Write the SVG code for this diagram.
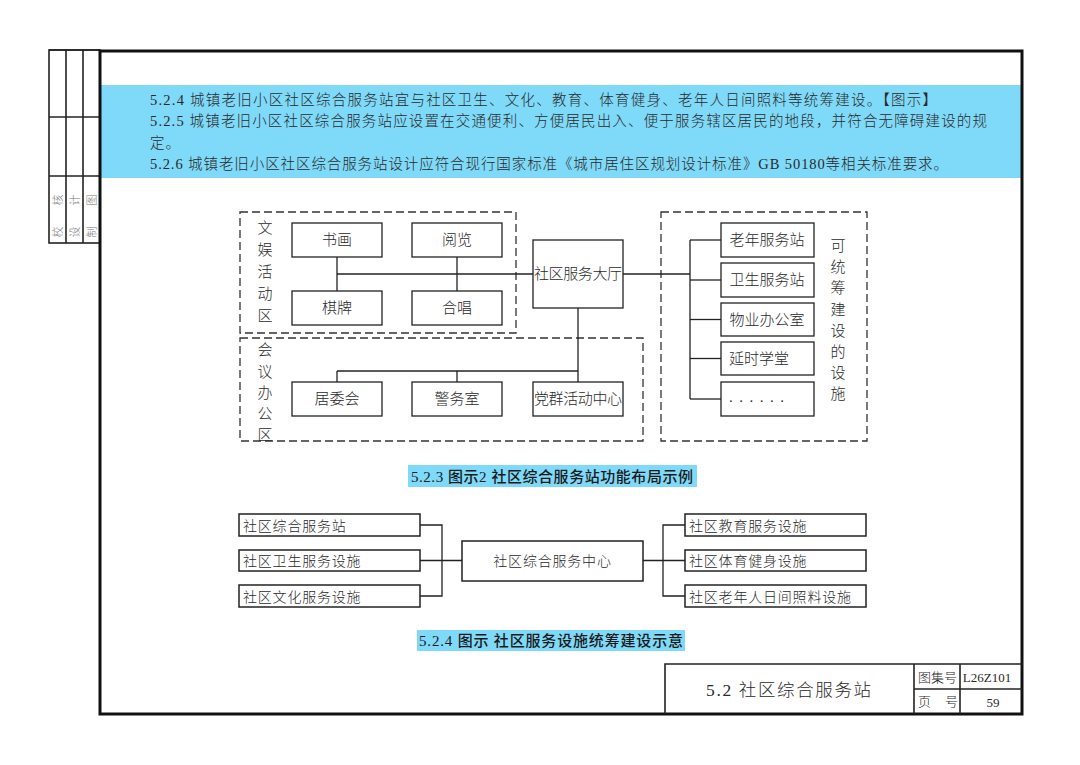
<svg xmlns="http://www.w3.org/2000/svg" width="1080" height="765" viewBox="0 0 1080 765">
<style>
text{font-family:"Liberation Serif","Noto Sans CJK SC",serif;fill:#2a2a2a;font-weight:300;}
.t{font-size:14.5px;}
.b{font-size:15px;}
.s{font-size:14px;letter-spacing:0.8px;}
.cp{font-size:15px;font-weight:500;fill:#1a1a1a;}
.box{fill:#fff;stroke:#222;stroke-width:1.3;}
.box2{fill:#fff;stroke:#222;stroke-width:1.5;}
.dash{fill:none;stroke:#333;stroke-width:1.3;stroke-dasharray:8 4;}
.ln{fill:none;stroke:#222;stroke-width:1.3;}
.frame{fill:none;stroke:#111;stroke-width:3;}
.tb{fill:none;stroke:#222;stroke-width:1.6;}
.g{font-size:11px;fill:#777;}
.cap{fill:#7fd9f8;}
</style>
<rect width="1080" height="765" fill="#fff"/>

<!-- left title block -->
<g id="sign-block">
<rect x="49" y="50" width="51" height="193" class="tb" stroke-width="1.2"/>
<line x1="66" y1="50" x2="66" y2="243" class="tb" stroke-width="1.2"/>
<line x1="83" y1="50" x2="83" y2="243" class="tb" stroke-width="1.2"/>
<line x1="49" y1="117" x2="100" y2="117" class="tb" stroke-width="1.2"/>
<line x1="49" y1="176" x2="100" y2="176" class="tb" stroke-width="1.2"/>
<text class="g" transform="translate(61.5,200) rotate(-90)" text-anchor="middle">核</text>
<text class="g" transform="translate(61.5,232) rotate(-90)" text-anchor="middle">校</text>
<text class="g" transform="translate(78.5,200) rotate(-90)" text-anchor="middle">计</text>
<text class="g" transform="translate(78.5,232) rotate(-90)" text-anchor="middle">设</text>
<text class="g" transform="translate(95.5,200) rotate(-90)" text-anchor="middle">图</text>
<text class="g" transform="translate(95.5,232) rotate(-90)" text-anchor="middle">制</text>
</g>

<!-- blue text band -->
<g id="clauses">
<rect x="100" y="85" width="923" height="93" fill="#7fd9f8"/>
<text class="t" x="150" y="104.5" textLength="787" lengthAdjust="spacing">5.2.4 城镇老旧小区社区综合服务站宜与社区卫生、文化、教育、体育健身、老年人日间照料等统筹建设。【图示】</text>
<text class="t" x="150" y="126" textLength="837" lengthAdjust="spacing">5.2.5 城镇老旧小区社区综合服务站应设置在交通便利、方便居民出入、便于服务辖区居民的地段，并符合无障碍建设的规</text>
<text class="t" x="150" y="147.5" textLength="30" lengthAdjust="spacing">定。</text>
<text class="t" x="150" y="169" textLength="798" lengthAdjust="spacing">5.2.6 城镇老旧小区社区综合服务站设计应符合现行国家标准《城市居住区规划设计标准》GB 50180等相关标准要求。</text>
</g>

<!-- main frame -->
<g id="frame">
<line x1="49" y1="50" x2="100" y2="50" stroke="#222" stroke-width="1.5"/>
<rect x="100" y="51" width="922" height="663" class="frame"/>
</g>

<!-- Diagram 1 zones -->
<g id="zone-wenyu">
<rect x="240" y="212" width="276" height="121" class="dash"/>
<text class="b" text-anchor="middle"><tspan x="265" y="233">文</tspan><tspan x="265" y="255">娱</tspan><tspan x="265" y="277">活</tspan><tspan x="265" y="299">动</tspan><tspan x="265" y="321">区</tspan></text>
</g>
<g id="zone-huiyi">
<rect x="240" y="338" width="403" height="103" class="dash"/>
<text class="b" text-anchor="middle"><tspan x="265" y="355">会</tspan><tspan x="265" y="377">议</tspan><tspan x="265" y="398">办</tspan><tspan x="265" y="419">公</tspan><tspan x="265" y="440">区</tspan></text>
</g>
<g id="zone-tongchou">
<rect x="661" y="212" width="206" height="229" class="dash"/>
<text class="b" text-anchor="middle"><tspan x="838" y="251">可</tspan><tspan x="838" y="272">统</tspan><tspan x="838" y="293">筹</tspan><tspan x="838" y="315">建</tspan><tspan x="838" y="336">设</tspan><tspan x="838" y="357">的</tspan><tspan x="838" y="378">设</tspan><tspan x="838" y="399">施</tspan></text>
</g>

<!-- connectors diagram 1 -->
<g id="connectors-1">
<line x1="337" y1="257" x2="337" y2="291" class="ln"/>
<line x1="457" y1="257" x2="457" y2="291" class="ln"/>
<line x1="337" y1="274" x2="533" y2="274" class="ln"/>
<line x1="623" y1="274" x2="690" y2="274" class="ln"/>
<line x1="578" y1="308" x2="578" y2="382" class="ln"/>
<line x1="337" y1="371" x2="578" y2="371" class="ln"/>
<line x1="337" y1="371" x2="337" y2="382" class="ln"/>
<line x1="457" y1="371" x2="457" y2="382" class="ln"/>
<line x1="690" y1="240" x2="690" y2="399" class="ln"/>
<line x1="690" y1="240" x2="721" y2="240" class="ln"/>
<line x1="690" y1="280" x2="721" y2="280" class="ln"/>
<line x1="690" y1="319.5" x2="721" y2="319.5" class="ln"/>
<line x1="690" y1="358.5" x2="721" y2="358.5" class="ln"/>
<line x1="690" y1="399" x2="721" y2="399" class="ln"/>
</g>

<!-- Diagram 1 nodes -->
<g id="n-shuhua"><rect x="292" y="223" width="90" height="34" class="box"/><text class="b" x="337" y="245" text-anchor="middle">书画</text></g>
<g id="n-yuelan"><rect x="412" y="223" width="90" height="34" class="box"/><text class="b" x="457" y="245" text-anchor="middle">阅览</text></g>
<g id="n-qipai"><rect x="292" y="291" width="90" height="34" class="box"/><text class="b" x="337" y="313" text-anchor="middle">棋牌</text></g>
<g id="n-hechang"><rect x="412" y="291" width="90" height="34" class="box"/><text class="b" x="457" y="313" text-anchor="middle">合唱</text></g>
<g id="n-dating"><rect x="533" y="240" width="90" height="68" class="box"/><text class="b" x="578" y="279" text-anchor="middle" textLength="88" lengthAdjust="spacing">社区服务大厅</text></g>
<g id="n-juweihui"><rect x="292" y="382" width="90" height="34" class="box"/><text class="b" x="337" y="404" text-anchor="middle">居委会</text></g>
<g id="n-jingwushi"><rect x="412" y="382" width="90" height="34" class="box"/><text class="b" x="457" y="404" text-anchor="middle">警务室</text></g>
<g id="n-dangqun"><rect x="533" y="382" width="90" height="34" class="box"/><text class="b" x="578" y="404" text-anchor="middle" textLength="88" lengthAdjust="spacing">党群活动中心</text></g>
<g id="n-laonian"><rect x="721" y="223" width="93" height="34" class="box"/><text class="b" x="767" y="245" text-anchor="middle">老年服务站</text></g>
<g id="n-weisheng"><rect x="721" y="263" width="93" height="34" class="box"/><text class="b" x="767" y="285" text-anchor="middle">卫生服务站</text></g>
<g id="n-wuye"><rect x="721" y="303" width="93" height="33" class="box"/><text class="b" x="767" y="325" text-anchor="middle">物业办公室</text></g>
<g id="n-yanshi"><rect x="721" y="342" width="93" height="33" class="box"/><text class="b" x="729" y="364">延时学堂</text></g>
<g id="n-more"><rect x="721" y="382" width="93" height="34" class="box"/><text class="b" x="729" y="402" letter-spacing="6.5">......</text></g>

<g id="caption-1">
<rect x="408" y="465" width="289" height="22" class="cap"/>
<text class="cp" x="411" y="481.5" textLength="282" lengthAdjust="spacing">5.2.3 图示2 社区综合服务站功能布局示例</text>
</g>

<!-- connectors diagram 2 -->
<g id="connectors-2">
<polyline points="420,525 442,525 442,596 420,596" class="ln" stroke-width="1.5"/>
<line x1="420" y1="560.5" x2="462" y2="560.5" class="ln" stroke-width="1.5"/>
<polyline points="685,525 663,525 663,596 685,596" class="ln" stroke-width="1.5"/>
<line x1="643" y1="560.5" x2="685" y2="560.5" class="ln" stroke-width="1.5"/>
</g>

<!-- Diagram 2 nodes -->
<g id="m-zonghe"><rect x="239" y="514" width="181" height="22" class="box2"/><text class="s" x="243" y="530.5">社区综合服务站</text></g>
<g id="m-weisheng"><rect x="239" y="550" width="181" height="21" class="box2"/><text class="s" x="243" y="566">社区卫生服务设施</text></g>
<g id="m-wenhua"><rect x="239" y="585" width="181" height="22" class="box2"/><text class="s" x="243" y="601.5">社区文化服务设施</text></g>
<g id="m-center"><rect x="462" y="541" width="181" height="40" class="box2"/><text class="s" x="552.5" y="566" text-anchor="middle">社区综合服务中心</text></g>
<g id="m-jiaoyu"><rect x="685" y="514" width="181" height="22" class="box2"/><text class="s" x="689" y="530.5">社区教育服务设施</text></g>
<g id="m-tiyu"><rect x="685" y="550" width="181" height="21" class="box2"/><text class="s" x="689" y="566">社区体育健身设施</text></g>
<g id="m-laonian"><rect x="685" y="585" width="181" height="22" class="box2"/><text class="s" x="689" y="601.5">社区老年人日间照料设施</text></g>

<g id="caption-2">
<rect x="417" y="630" width="268" height="21" class="cap"/>
<text class="cp" x="419" y="645.5" textLength="264" lengthAdjust="spacing">5.2.4 图示 社区服务设施统筹建设示意</text>
</g>

<!-- title block -->
<g id="title-block">
<polyline points="665,714 665,664 1022,664" class="tb"/>
<line x1="914" y1="664" x2="914" y2="714" class="tb"/>
<line x1="960" y1="664" x2="960" y2="714" class="tb"/>
<line x1="914" y1="689" x2="1022" y2="689" class="tb"/>
<text x="706" y="696" font-size="17.5" textLength="165" lengthAdjust="spacing">5.2 社区综合服务站</text>
<text x="918" y="682" font-size="13" textLength="39" lengthAdjust="spacing">图集号</text>
<text x="987" y="682" font-size="13" text-anchor="middle">L26Z101</text>
<text x="918" y="706" font-size="13">页</text>
<text x="945" y="706" font-size="13">号</text>
<text x="993" y="707" font-size="13" text-anchor="middle">59</text>
</g>
</svg>
